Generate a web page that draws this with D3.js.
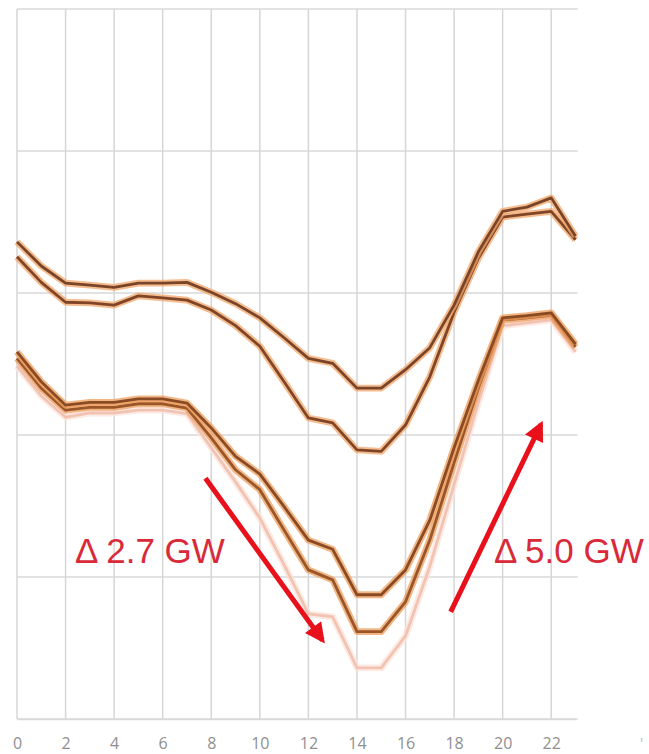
<!DOCTYPE html>
<html>
<head>
<meta charset="utf-8">
<script src="https://d3js.org/d3.v7.min.js"></script>
<style>
  body { margin: 0; background: #fff; }
</style>
</head>
<body>
<div id="graph"></div>
<script>
// hours of the day
let hours = d3.range(0, 24);
let tickHours = [0, 2, 4, 6, 8, 10, 12, 14, 16, 18, 20, 22];
let gridValues = [14, 16, 18, 20, 22, 24];

// demand curves (GW)
let lineA = [20.72, 20.38, 20.14, 20.11, 20.08, 20.14, 20.14, 20.15, 20.01, 19.85, 19.65, 19.37,
             19.08, 19.01, 18.66, 18.66, 18.92, 19.23, 19.83, 20.58, 21.15, 21.21, 21.34, 20.80];
let lineB = [20.51, 20.15, 19.87, 19.86, 19.83, 19.96, 19.93, 19.90, 19.76, 19.54, 19.25, 18.75,
             18.24, 18.17, 17.79, 17.77, 18.14, 18.82, 19.73, 20.49, 21.07, 21.11, 21.15, 20.75];
let lineC = [19.17, 18.75, 18.42, 18.46, 18.46, 18.51, 18.51, 18.45, 18.10, 17.70, 17.45, 16.99,
             16.52, 16.39, 15.75, 15.75, 16.10, 16.80, 17.82, 18.77, 19.65, 19.68, 19.72, 19.28];
let lineD = [19.08, 18.66, 18.35, 18.39, 18.39, 18.44, 18.44, 18.38, 17.96, 17.51, 17.23, 16.66,
             16.10, 15.96, 15.23, 15.23, 15.65, 16.52, 17.61, 18.66, 19.62, 19.65, 19.69, 19.24];
let lineE = [18.97, 18.55, 18.25, 18.31, 18.31, 18.35, 18.35, 18.30, 17.82, 17.34, 16.83, 16.17,
             15.48, 15.44, 14.72, 14.72, 15.17, 16.15, 17.30, 18.46, 19.54, 19.58, 19.62, 19.17];

let width = 649, height = 754;
let margin = {left: 17, top: 9, right: 74, bottom: 35};

let svg = d3.select('#graph')
    .append("svg")
    .attr("width", width)
    .attr("height", height);

let x = d3.scaleLinear()
    .domain([0, 23])
    .range([margin.left, width - margin.right + 0.5]);

let y = d3.scaleLinear()
    .domain([14, 24])
    .range([height - margin.bottom, margin.top]);

// horizontal grid
svg.append("g")
    .selectAll("line")
    .data(gridValues)
    .enter()
    .append("line")
    .attr("x1", x(0))
    .attr("x2", x(23) + 2)
    .attr("y1", d => y(d))
    .attr("y2", d => y(d))
    .attr("stroke", "#d9d9d9")
    .attr("stroke-width", 1.5);

// vertical grid
svg.append("g")
    .selectAll("line")
    .data(tickHours)
    .enter()
    .append("line")
    .attr("x1", d => x(d))
    .attr("x2", d => x(d))
    .attr("y1", y(24))
    .attr("y2", y(14))
    .attr("stroke", "#d6d6d6")
    .attr("stroke-width", 1.5);

// x axis labels
let xAxis = svg.append("g")
    .attr("transform", `translate(0, ${y(14)})`)
    .call(d3.axisBottom(x).tickValues(tickHours).tickSize(0).tickPadding(19));
xAxis.select(".domain").attr("stroke", "#d9d9d9").attr("stroke-width", 1.5);
xAxis.selectAll("text")
    .style("font-family", "'Open Sans', sans-serif")
    .style("font-size", "16px")
    .attr("fill", "#8f8f8f");

svg.append("text")
    .attr("x", 640)
    .attr("y", 748)
    .style("font-family", "'Open Sans', sans-serif")
    .style("font-size", "15px")
    .attr("fill", "#bbbbbb")
    .text("'");

let line = d3.line()
    .x((d, i) => x(hours[i]))
    .y(d => y(d));

let series = [
    {values: lineE, core: "#f2c3b3", halo: "#fbe3da", w: 2.8},
    {values: lineD, core: "#9a5528", halo: "#ee9d5c", w: 2.8},
    {values: lineC, core: "#8a4a24", halo: "#ee9d5c", w: 2.8},
    {values: lineB, core: "#7f4526", halo: "#f2a56a", w: 2.8},
    {values: lineA, core: "#7a4428", halo: "#f2a56a", w: 2.8}
];

series.forEach(function(s) {
    svg.append("path")
        .datum(s.values)
        .attr("fill", "none")
        .attr("stroke", s.halo)
        .attr("stroke-opacity", 0.75)
        .attr("stroke-width", s.w + 4)
        .attr("stroke-linejoin", "round")
        .attr("d", line);
    svg.append("path")
        .datum(s.values)
        .attr("fill", "none")
        .attr("stroke", s.core)
        .attr("stroke-width", s.w)
        .attr("stroke-linejoin", "round")
        .attr("d", line);
});

// arrows
svg.append("defs").append("marker")
    .attr("id", "head")
    .attr("viewBox", "0 0 10 10")
    .attr("refX", 8)
    .attr("refY", 5)
    .attr("markerWidth", 4.6)
    .attr("markerHeight", 4)
    .attr("markerUnits", "strokeWidth")
    .attr("orient", "auto")
    .append("path")
    .attr("d", "M0,0 L10,5 L0,10 Z")
    .attr("fill", "#e8101a");

let arrows = [
    {x1: 7.76, y1: 17.39, x2: 12.58, y2: 15.11},
    {x1: 17.86, y1: 15.51, x2: 21.58, y2: 18.15}
];

svg.append("g")
    .selectAll("line")
    .data(arrows)
    .enter()
    .append("line")
    .attr("x1", d => x(d.x1))
    .attr("y1", d => y(d.y1))
    .attr("x2", d => x(d.x2))
    .attr("y2", d => y(d.y2))
    .attr("stroke", "#e8101a")
    .attr("stroke-width", 5)
    .attr("marker-end", "url(#head)");

let labels = [
    {h: 2.39, v: 16.2, text: "Δ 2.7 GW"},
    {h: 19.64, v: 16.2, text: "Δ 5.0 GW"}
];

svg.append("g")
    .selectAll("text")
    .data(labels)
    .enter()
    .append("text")
    .attr("x", d => x(d.h))
    .attr("y", d => y(d.v))
    .style("font-family", "'Liberation Sans', Arial, sans-serif")
    .style("font-size", "35px")
    .attr("fill", "#d92a3a")
    .text(d => d.text);
</script>
</body>
</html>
